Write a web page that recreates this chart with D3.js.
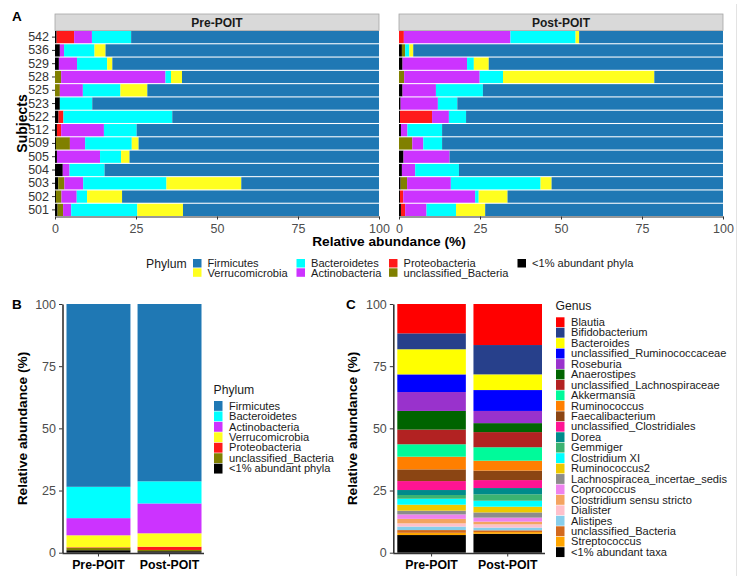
<!DOCTYPE html>
<html>
<head>
<meta charset="utf-8">
<script src="https://cdn.jsdelivr.net/npm/d3@7/dist/d3.min.js"></script>
<style>
  html, body { margin: 0; padding: 0; background: #fff; }
  svg { display: block; font-family: "Liberation Sans", Arial, sans-serif; }
</style>
</head>
<body>
<svg id="chart" width="744" height="579"></svg>
<script>
// ---------------- DATA ----------------
const subjects = ["542","536","529","528","525","523","522","512","509","505","504","503","502","501"];
const timepoints = ["Pre-POIT","Post-POIT"];

// Panel A: per-subject phylum abundance (%), order of subjects as above
const phylaA = ["<1% abundant phyla","unclassified_Bacteria","Proteobacteria","Actinobacteria","Bacteroidetes","Verrucomicrobia","Firmicutes"];
const preOther    = [0.5,1.5,1.2,0,  0,  1.5,1.1,0.6,0.3,0.6,2.4,1.0,0.3,0.8];
const preUnclass  = [0,  0,  0,  1.9,1.5,0,  0,  0,  4.3,0,  0,  1.9,1.7,1.7];
const preProteo   = [5.4,0,  0,  0,  0,  0,  1.5,1.3,0,  0,  0,  0,  0,  0];
const preActino   = [5.5,1.3,5.6,32.2,7.1,0, 0,  13.2,4.7,13.3,2.1,5.8,4.7,2.5];
const preBactero  = [12.1,9.4,9.3,1.7,11.6,10.0,33.6,10.1,14.4,6.5,10.8,25.7,3.2,20.4];
const preVerruco  = [0,  3.4,1.6,3.4,8.3,0,  0,  0,  2.1,2.6,0,  23.1,10.8,14.1];
const preFirmi    = [76.5,84.4,82.3,60.8,71.5,88.5,63.8,74.8,74.2,77.0,84.7,42.5,79.3,60.5];

const postOther   = [0,  0.9,1.1,0,  1.1,0.5,0.3,0.6,0,  1.4,0.9,0.5,0.3,0.6];
const postUnclass = [0,  1.0,0,  1.6,0,  0,  0,  0,  4.1,0,  0,  2.0,0,  0];
const postProteo  = [1.5,0,  0,  0,  0,  0,  9.9,0,  0,  0,  0,  0,  1.0,1.3];
const postActino  = [32.9,0, 19.9,23.3,10.3,11.5,5.2,2.0,3.4,14.2,4.1,13.5,22.2,6.6];
const postBactero = [20.1,1.3,2.1,7.2,14.5,6.0,5.3,10.7,5.8,0, 13.5,27.7,1.1,9.1];
const postVerruco = [1.1,1.2,4.6,46.7,0,  0,  0,  0,  0,  0,  0,  3.4,8.9,9.0];
const postFirmi   = [44.4,95.6,72.3,21.2,74.1,82.0,79.3,86.7,86.7,84.4,81.5,52.9,66.5,73.4];

const phylumColors = {
  "Firmicutes": "#1F78B4",
  "Verrucomicrobia": "#FFFF1F",
  "Bacteroidetes": "#00FFFF",
  "Actinobacteria": "#CC33FF",
  "Proteobacteria": "#FF1A1A",
  "unclassified_Bacteria": "#808000",
  "<1% abundant phyla": "#000000"
};
const legendA = ["Firmicutes","Verrucomicrobia","Bacteroidetes","Actinobacteria","Proteobacteria","unclassified_Bacteria","<1% abundant phyla"];

// Panel B: pooled phylum abundance (%)
const phylaB = ["Firmicutes","Bacteroidetes","Actinobacteria","Verrucomicrobia","Proteobacteria","unclassified_Bacteria","<1% abundant phyla"];
const prePhylumB  = [73.5,12.6,6.9,4.8,0.2,1.0,1.0];
const postPhylumB = [71.3,8.9,12.0,5.4,1.3,0.5,0.6];

// Panel C: genus abundance (%)
const genera = ["Blautia","Bifidobacterium","Bacteroides","unclassified_Ruminococcaceae","Roseburia","Anaerostipes","unclassified_Lachnospiraceae","Akkermansia","Ruminococcus","Faecalibacterium","unclassified_Clostridiales","Dorea","Gemmiger","Clostridium XI","Ruminococcus2","Lachnospiracea_incertae_sedis","Coprococcus","Clostridium sensu stricto","Dialister","Alistipes","unclassified_Bacteria","Streptococcus","<1% abundant taxa"];
const preGenus  = [11.8,6.4,10.1,7.1,7.6,7.5,5.9,5.0,5.1,4.7,3.6,2.0,1.5,2.4,2.4,1.5,1.8,1.8,1.3,1.4,1.1,0.9,7.1];
const postGenus = [16.5,11.8,6.3,8.4,4.9,3.6,6.1,5.4,4.0,3.8,3.2,2.5,2.6,2.4,2.3,2.1,1.6,1.1,1.3,1.1,0.7,0.7,7.6];
const genusColors = ["#FF0000","#27408B","#FFFF00","#0000FF","#9932CC","#006400","#B22222","#00FA9A","#FF7F00","#8B4513","#FF1493","#008B8B","#3CB371","#00FFFF","#EEC900","#8C8C8C","#EE82EE","#F4A460","#FFC0CB","#87CEEB","#D2691E","#FFA500","#000000"];

const xTicks = [0,25,50,75,100];

// ---------------- DRAW ----------------
const svg = d3.select("#chart");
const axisCol = "#333333";
const tickTextCol = "#4D4D4D";
const legFont = 11.1;

// right border line
svg.append("line").attr("x1",736.5).attr("x2",736.5).attr("y1",4).attr("y2",576)
  .attr("stroke","#E3E3E3").attr("stroke-width",1);

// ===== Panel A =====
const yA = d3.scaleBand().domain(subjects).range([31, 216]).paddingInner(0.08).paddingOuter(0);
const facets = [
  {name: "Pre-POIT", x0: 55, x1: 379, cols: [preOther,preUnclass,preProteo,preActino,preBactero,preVerruco,preFirmi]},
  {name: "Post-POIT", x0: 399, x1: 723, cols: [postOther,postUnclass,postProteo,postActino,postBactero,postVerruco,postFirmi]}
];

facets.forEach((f, fi) => {
  const x = d3.scaleLinear().domain([0,100]).range([f.x0, f.x1]);
  const rows = subjects.map((s, i) => {
    const r = {subject: s};
    phylaA.forEach((p, k) => r[p] = f.cols[k][i]);
    return r;
  });
  const series = d3.stack().keys(phylaA)(rows);
  const g = svg.append("g");
  series.forEach(ser => {
    g.selectAll(null).data(ser).enter().append("rect")
      .attr("x", d => x(d[0]))
      .attr("width", d => Math.max(0, x(d[1]) - x(d[0])))
      .attr("y", d => yA(d.data.subject))
      .attr("height", yA.bandwidth())
      .attr("fill", phylumColors[ser.key]);
  });
  // strip
  svg.append("rect").attr("x", f.x0).attr("y", 14).attr("width", f.x1 - f.x0).attr("height", 16.5)
    .attr("fill", "#D9D9D9").attr("stroke", "#A6A6A6").attr("stroke-width", 0.8);
  svg.append("text").attr("x", (f.x0 + f.x1)/2).attr("y", 26.5).attr("text-anchor","middle")
    .attr("font-size", 12).attr("font-weight","bold").attr("fill","#1A1A1A").text(f.name);
  // x axis
  const ax = svg.append("g").attr("transform","translate(0,216.5)")
    .call(d3.axisBottom(x).tickValues(xTicks).tickSize(3).tickSizeOuter(0));
  ax.select(".domain").attr("stroke", axisCol).attr("stroke-width", 1.2);
  ax.selectAll(".tick line").attr("stroke", axisCol);
  ax.selectAll("text").attr("font-size", 12.5).attr("fill", tickTextCol)
    .attr("font-family","Liberation Sans, Arial, sans-serif").attr("dy","0.85em");
  if (fi === 0) {
    const ay = svg.append("g").attr("transform", `translate(${f.x0},0)`)
      .call(d3.axisLeft(yA).tickSize(3));
    ay.select(".domain").remove();
    ay.selectAll(".tick line").attr("stroke", axisCol);
    ay.selectAll("text").attr("font-size", 12.5).attr("fill", "#333")
      .attr("font-family","Liberation Sans, Arial, sans-serif");
  }
});

svg.append("text").attr("x", 12).attr("y", 21).attr("font-size", 13.5).attr("font-weight","bold").text("A");
svg.append("text").attr("transform","translate(27,123.5) rotate(-90)").attr("text-anchor","middle")
  .attr("font-size", 14).attr("font-weight","bold").text("Subjects");
svg.append("text").attr("x", 389).attr("y", 246).attr("text-anchor","middle")
  .attr("font-size", 13.7).attr("font-weight","bold").text("Relative abundance (%)");

// Panel A legend (2 rows, by column)
svg.append("text").attr("x", 146).attr("y", 267.5).attr("font-size", 12.2).attr("fill","#1A1A1A").text("Phylum");
const legColsX = [193, 296.5, 389, 517.5];
legendA.forEach((p, i) => {
  const c = Math.floor(i / 2), r = i % 2;
  const kx = legColsX[c], ky = 259 + r * 9.3;
  svg.append("rect").attr("x", kx).attr("y", ky).attr("width", 8.5).attr("height", 8.5).attr("fill", phylumColors[p]);
  svg.append("text").attr("x", kx + 14.5).attr("y", ky + 8.2).attr("font-size", legFont).attr("fill","#1A1A1A").text(p);
});

// ===== Panel B & C common =====
const yBC = d3.scaleLinear().domain([0,100]).range([552.7, 304]);

function drawStackPanel(opts) {
  const x = d3.scaleBand().domain(timepoints).range([opts.bx0, opts.bx1]).paddingInner(0.1).paddingOuter(0);
  const rows = timepoints.map((t, i) => {
    const r = {tp: t};
    opts.keys.forEach((k, j) => r[k] = opts.vals[i][j]);
    return r;
  });
  const keysBottomFirst = opts.keys.slice().reverse();
  const series = d3.stack().keys(keysBottomFirst)(rows);
  series.forEach(ser => {
    svg.append("g").selectAll(null).data(ser).enter().append("rect")
      .attr("x", d => x(d.data.tp))
      .attr("width", x.bandwidth())
      .attr("y", d => yBC(d[1]))
      .attr("height", d => Math.max(0, yBC(d[0]) - yBC(d[1])))
      .attr("fill", opts.color(ser.key));
  });
  // y axis
  const ay = svg.append("g").attr("transform", `translate(${opts.axX},0)`)
    .call(d3.axisLeft(yBC).tickValues(xTicks).tickSize(3.5).tickSizeOuter(0));
  ay.select(".domain").attr("stroke", axisCol).attr("stroke-width", 1.6);
  ay.selectAll(".tick line").attr("stroke", axisCol);
  ay.selectAll("text").attr("font-size", 12.5).attr("fill", tickTextCol)
    .attr("font-family","Liberation Sans, Arial, sans-serif");
  // x axis
  svg.append("line").attr("x1", opts.axX).attr("x2", opts.axEnd).attr("y1", 553.5).attr("y2", 553.5)
    .attr("stroke", axisCol).attr("stroke-width", 1.6);
  const axb = svg.append("g").attr("transform","translate(0,553.5)")
    .call(d3.axisBottom(x).tickSize(3).tickSizeOuter(0));
  axb.select(".domain").remove();
  axb.selectAll(".tick line").attr("stroke", axisCol);
  axb.selectAll("text").attr("font-size", 12.3).attr("font-weight","bold").attr("fill","#000")
    .attr("font-family","Liberation Sans, Arial, sans-serif").attr("dy","0.75em");
  // labels
  svg.append("text").attr("x", opts.letterX).attr("y", 309).attr("font-size", 13.5).attr("font-weight","bold").text(opts.letter);
  svg.append("text").attr("transform", `translate(${opts.titleX},428.5) rotate(-90)`).attr("text-anchor","middle")
    .attr("font-size", 13.7).attr("font-weight","bold").text("Relative abundance (%)");
  // legend
  svg.append("text").attr("x", opts.legX).attr("y", opts.legTitleY).attr("font-size", 12.2).attr("fill","#1A1A1A").text(opts.legTitle);
  opts.keys.forEach((k, i) => {
    const ky = opts.legY0 + i * opts.legStep;
    svg.append("rect").attr("x", opts.legX + 0.5).attr("y", ky).attr("width", 8.5).attr("height", opts.legStep - 0.6)
      .attr("fill", opts.color(k));
    svg.append("text").attr("x", opts.legX + 15.5).attr("y", ky + opts.legStep - 1.8).attr("font-size", legFont)
      .attr("fill","#1A1A1A").text(k);
  });
}

drawStackPanel({
  keys: phylaB, vals: [prePhylumB, postPhylumB], color: k => phylumColors[k],
  bx0: 66.5, bx1: 201.5, axX: 62.5, axEnd: 204,
  letter: "B", letterX: 12, titleX: 27,
  legTitle: "Phylum", legX: 213.5, legTitleY: 393.5, legY0: 401, legStep: 10.45
});

const genusColorMap = {};
genera.forEach((g, i) => genusColorMap[g] = genusColors[i]);
drawStackPanel({
  keys: genera, vals: [preGenus, postGenus], color: k => genusColorMap[k],
  bx0: 397.3, bx1: 542, axX: 393.3, axEnd: 545,
  letter: "C", letterX: 346, titleX: 357,
  legTitle: "Genus", legX: 555.5, legTitleY: 309.5, legY0: 317.3, legStep: 10.45
});
</script>
</body>
</html>
